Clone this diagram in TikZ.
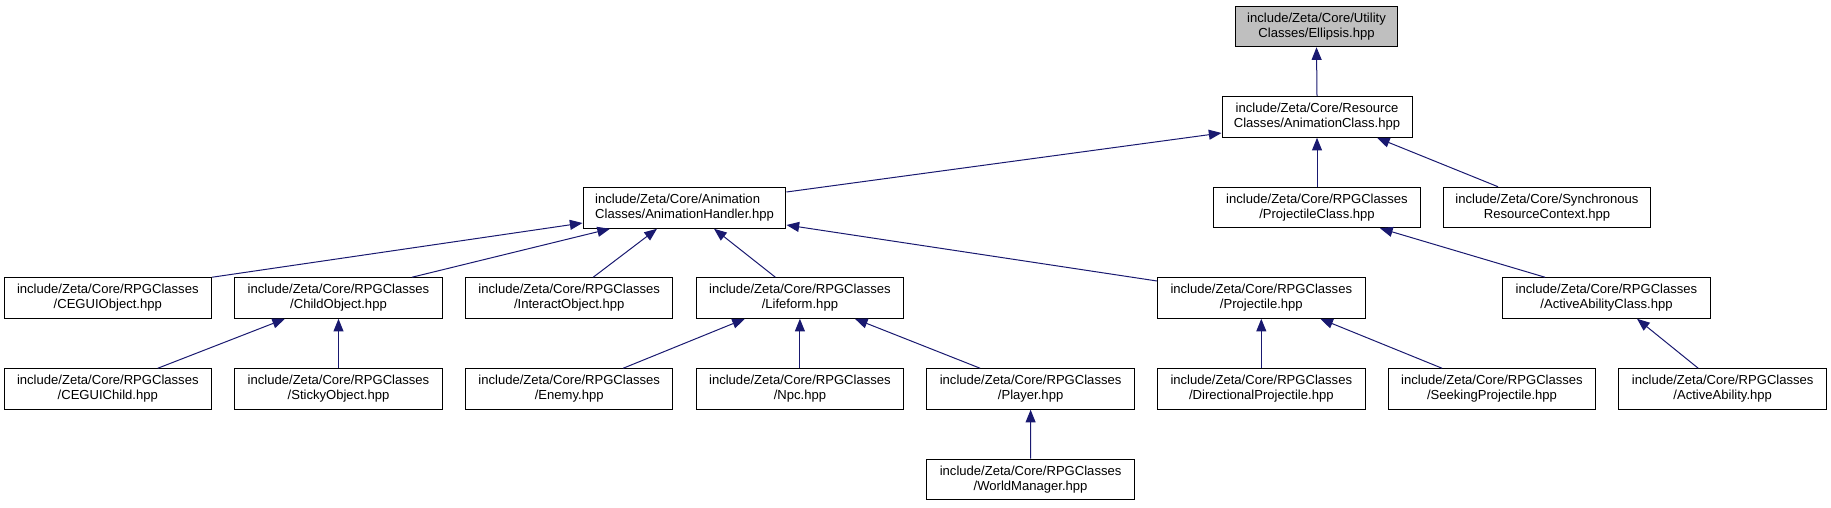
\documentclass[tikz,border=0pt]{standalone}
\usepackage{fontspec}
\setmainfont{Liberation Sans}
\usepackage{xcolor}
\usepackage{tikz}
\usetikzlibrary{arrows.meta,calc}
\definecolor{edgeblue}{HTML}{191970}
\definecolor{rootgray}{HTML}{BFBFBF}

\begin{document}
\begin{tikzpicture}[x=0.75pt, y=-0.75pt, font=\fontsize{9.8}{11.25}\selectfont,
  file/.style={draw=black, line width=0.75pt, fill=white, minimum height=30.4pt, minimum width=155.6pt, inner sep=0pt, align=center},
  root/.style={file, fill=rootgray, minimum width=122.2pt},
  inc/.style={draw=edgeblue, line width=0.75pt, -{Triangle[length=9.5pt, width=7.5pt]}}]
\useasboundingbox (0,0) rectangle (1831,507);
% ================= upper levels =================
\node[root] (ell) at (1316.5,26.5) {include/Zeta/Core/Utility\\Classes/Ellipsis.hpp};
\node[file, minimum width=142.5pt] (ac) at (1317,117) {include/Zeta/Core/Resource\\Classes/AnimationClass.hpp};
\node[file, minimum width=152.2pt, align=left] (ah) at (684.5,208) {include/Zeta/Core/Animation\\Classes/AnimationHandler.hpp};
\node[file] (pc) at (1317,207.5) {include/Zeta/Core/RPGClasses\\/ProjectileClass.hpp};
\node[file] (sync) at (1547,207.5) {include/Zeta/Core/Synchronous\\ResourceContext.hpp};
% ================= RPG classes, two rows =================
\foreach \n/\k/\f in {cguiobj/0/CEGUIObject, childobj/1/ChildObject, interobj/2/InteractObject, lifeform/3/Lifeform, projectile/5/Projectile}{\node[file] (\n) at ({107.8+230.7*\k},298) {include/Zeta/Core/RPGClasses\\/\f.hpp};}
\node[file] (aac) at (1606.5,298) {include/Zeta/Core/RPGClasses\\/ActiveAbilityClass.hpp};
\foreach \n/\k/\f in {cguichild/0/CEGUIChild, sticky/1/StickyObject, enemy/2/Enemy, npc/3/Npc, player/4/Player, dirproj/5/DirectionalProjectile, seekproj/6/SeekingProjectile, actability/7/ActiveAbility}{\node[file] (\n) at ({107.8+230.7*\k},389) {include/Zeta/Core/RPGClasses\\/\f.hpp};}
\node[file] (wm) at (1030.6,479.5) {include/Zeta/Core/RPGClasses\\/WorldManager.hpp};
% ================= include edges =================
\draw[inc] (ac.north) -- (ell.south);
\draw[inc] ($(ah.east)+(0,-16)$) -- ($(ac.west)+(0,16)$);
\draw[inc] (pc.north) -- (ac.south);
\draw[inc] ($(sync.north)+(-49,0)$) -- ($(ac.south)+(60,0)$);
\draw[inc] (cguiobj.north east) -- ($(ah.west)+(0,15)$);
\draw[inc] ($(childobj.north)+(73.5,0)$) -- ($(ah.south)+(-74.5,0)$);
\draw[inc] ($(interobj.north)+(24,0)$) -- ($(ah.south)+(-27.5,0)$);
\draw[inc] ($(lifeform.north)+(-24.5,0)$) -- ($(ah.south)+(29.5,0)$);
\draw[inc] ($(projectile.west)+(0,-17)$) -- ($(ah.east)+(0,17)$);
\draw[inc] ($(aac.north)+(-61.5,0)$) -- ($(pc.south)+(63,0)$);
\draw[inc] ($(cguichild.north)+(50,0)$) -- ($(childobj.south)+(-53.5,0)$);
\draw[inc] (sticky.north) -- (childobj.south);
\draw[inc] ($(enemy.north)+(54,0)$) -- ($(lifeform.south)+(-55,0)$);
\draw[inc] (npc.north) -- (lifeform.south);
\draw[inc] ($(player.north)+(-50.5,0)$) -- ($(lifeform.south)+(55,0)$);
\draw[inc] (dirproj.north) -- (projectile.south);
\draw[inc] ($(seekproj.north)+(-50,0)$) -- ($(projectile.south)+(59,0)$);
\draw[inc] ($(actability.north)+(-24.5,0)$) -- ($(aac.south)+(30.5,0)$);
\draw[inc] (wm.north) -- (player.south);
\end{tikzpicture}
\end{document}
